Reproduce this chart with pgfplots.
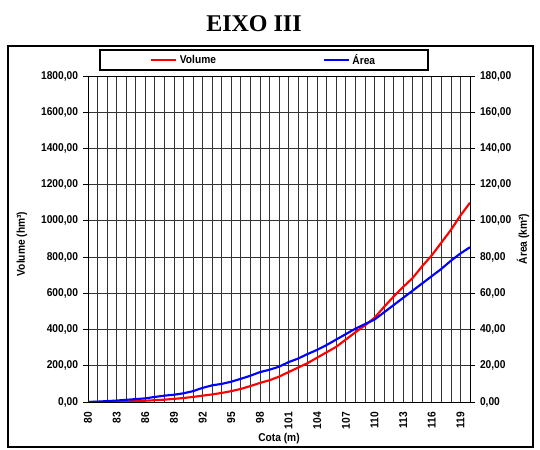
\documentclass[border=0pt]{standalone}
\usepackage{pgfplots}
\pgfplotsset{compat=1.18}
\usepackage{fontspec}
\setmainfont{Liberation Sans}
\newfontfamily\narrowbold[FakeStretch=0.9]{Liberation Sans Bold}
\newfontfamily\titlefont{Liberation Serif}

\pgfplotstableread{
cota volume area
80 0 0
81 0 0.2
82 1 0.5
83 2 0.8
84 3 1.2
85 5 1.6
86 7 2.0
87 10 2.8
88 13 3.5
89 17 4.0
90 22 4.8
91 28 6.0
92 35 7.8
93 42 9.2
94 50 10.0
95 60 11.2
96 72 12.8
97 88 14.5
98 105 16.5
99 120 17.8
100 140 19.5
101 165 22.0
102 190 24.0
103 215 26.5
104 245 28.8
105 275 31.5
106 305 34.5
107 345 37.5
108 385 40.5
109 423 43.0
110 465 45.5
111 525 49.5
112 582 53.5
113 635 57.5
114 685 61.5
115 750 65.5
116 810 69.5
117 880 73.5
118 950 78.0
119 1030 82.0
120 1100 85.5
}\eixo

\begin{document}
\begin{tikzpicture}[x=0.75pt,y=0.75pt]
\useasboundingbox (0,0) rectangle (540,450);
\draw[line width=0.8pt] (8,3) rectangle (533,404);
\node[font=\titlefont\bfseries\fontsize{18}{20}\selectfont] at (254,426) {EIXO III};
\draw[line width=0.8pt] (100,380) rectangle (428,400);

\pgfplotsset{
  every axis/.append style={
    scale only axis, width=286.5pt, height=244.5pt,
    at={(66pt,36pt)}, anchor=south west,
    xmin=80, xmax=120,
    tick label style={font=\narrowbold\fontsize{8.5}{9}\selectfont},
    label style={font=\narrowbold\fontsize{8.5}{9}\selectfont},
    /pgf/number format/assume math mode=true,
    yticklabel style={/pgf/number format/fixed, /pgf/number format/fixed zerofill,
      /pgf/number format/precision=2, /pgf/number format/use comma,
      /pgf/number format/1000 sep={}},
  }
}

\begin{axis}[
  ymin=0, ymax=1800, ytick={0,200,...,1800},
  xtick={80,83,...,119}, minor xtick={80,...,120},
  xticklabel style={rotate=90, anchor=east},
  grid=both,
  major grid style={black!80, line width=0.6pt},
  minor grid style={black!80, line width=0.6pt},
  axis line style={black, line width=0.6pt},
  xtick style={draw=none},
  minor tick length=0pt,
  ytick style={black, line width=0.6pt},
  tick align=outside, major tick length=4pt,
  ytick pos=left,
  xlabel={Cota (m)},
  xlabel style={at={(rel axis cs:0.5,0)}, anchor=north, yshift=-20pt},
  legend style={draw=none, fill=none, at={(rel axis cs:0.4607,1.049)}, anchor=center,
    legend columns=2, font=\narrowbold\fontsize{8.5}{9}\selectfont,
    /tikz/every even column/.append style={column sep=78pt}},
  legend image code/.code={\draw[#1] (0pt,0pt) -- (18.75pt,0pt);},
]
\addplot[red, line width=1.6pt, no marks] table[x=cota, y=volume] {\eixo};
\addlegendentry{Volume}
\addlegendimage{blue, line width=1.6pt}
\addlegendentry{Área}
\end{axis}

\begin{axis}[
  ymin=0, ymax=180, ytick={0,20,...,180},
  axis x line=none, axis y line*=right,
  axis line style={black, line width=0.6pt},
  ytick style={black, line width=0.6pt},
  tick align=outside, major tick length=4pt,
]
\addplot[blue, line width=1.6pt, no marks] table[x=cota, y=area] {\eixo};
\end{axis}

\node[rotate=90, font=\narrowbold\fontsize{8.5}{9}\selectfont] at (22,206) {Volume (hm³)};
\node[rotate=90, font=\narrowbold\fontsize{8.5}{9}\selectfont] at (523,211) {Área (km²)};
\end{tikzpicture}
\end{document}
